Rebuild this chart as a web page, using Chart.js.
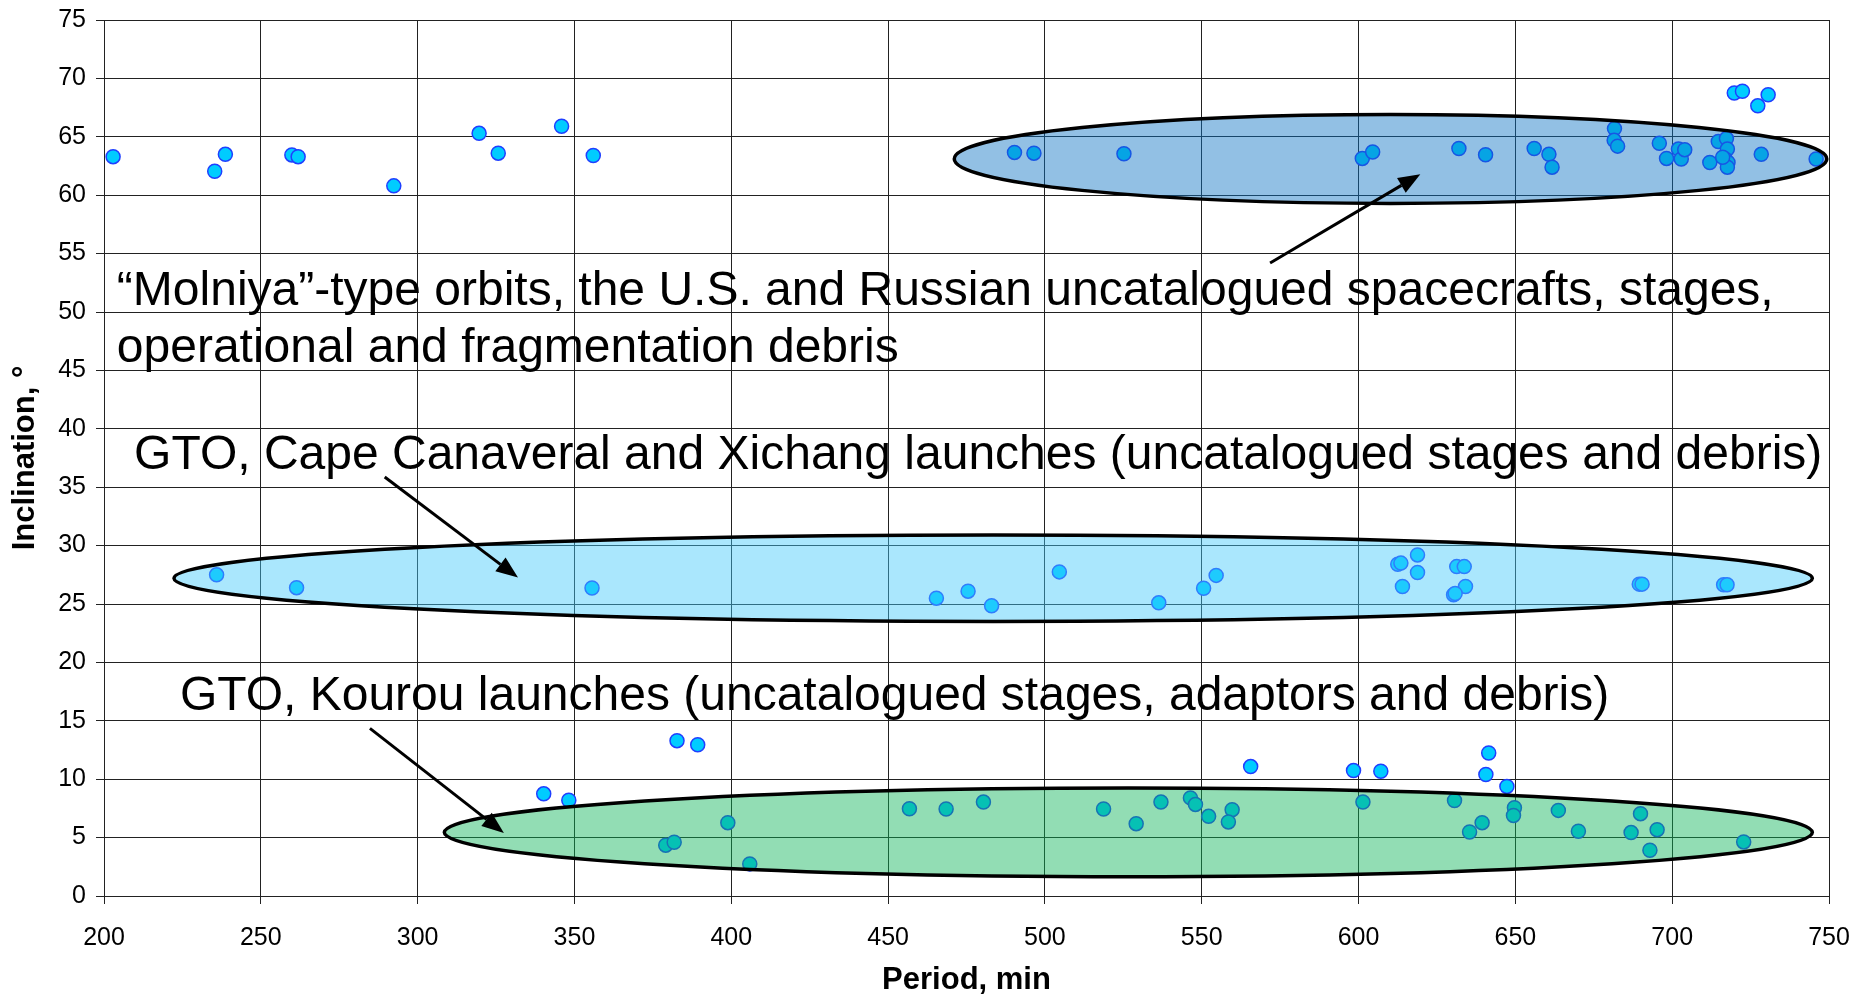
<!DOCTYPE html>
<html>
<head>
<meta charset="utf-8">
<script src="https://cdn.jsdelivr.net/npm/chart.js@4.4.0/dist/chart.umd.min.js"></script>
<style>
  html, body { margin: 0; padding: 0; background: #fff; }
  #wrap { width: 1856px; height: 999px; }
</style>
</head>
<body>
<div id="wrap"><canvas id="grafico" width="1856" height="999"></canvas></div>
<script>
// Eixos
const xMin = 200, xMax = 750, xStep = 50;
const yMin = 0, yMax = 75, yStep = 5;

// "Molniya"-type (inclinação ~63°)
const molniyaPeriod = [202.9, 235.3, 238.7, 259.9, 261.9, 292.4, 319.6, 325.7, 345.9, 356.0,
  490.3, 496.5, 525.2, 601.2, 604.5, 632.0, 640.5, 656.0, 660.7, 661.7, 681.6, 681.5, 682.6,
  695.9, 698.2, 702.0, 702.9, 704.0, 712.0, 714.7, 717.3, 717.6, 716.9, 717.8, 717.6, 716.1,
  728.4, 745.9, 719.8, 722.4, 727.3, 730.6];
const molniyaIncl = [63.3, 62.05, 63.5, 63.45, 63.3, 60.8, 65.3, 63.6, 65.9, 63.4,
  63.66, 63.6, 63.55, 63.15, 63.7, 64.0, 63.46, 64.0, 63.5, 62.4, 65.7, 64.7, 64.2,
  64.45, 63.15, 63.95, 63.1, 63.9, 62.8, 64.6, 64.85, 63.95, 63.1, 62.8, 62.4, 63.25,
  63.5, 63.1, 68.75, 68.9, 67.65, 68.6];

// GTO, Cape Canaveral / Xichang
const capePeriod = [235.9, 261.4, 355.6, 465.4, 475.5, 483.0, 504.6, 536.3, 550.6, 554.6,
  612.5, 613.5, 618.8, 618.8, 614.0, 631.3, 633.7, 634.1, 630.3, 630.8, 689.5, 690.4, 716.4, 717.5];
const capeIncl = [27.5, 26.4, 26.37, 25.5, 26.1, 24.85, 27.75, 25.1, 26.35, 27.45,
  28.4, 28.5, 29.2, 27.7, 26.5, 28.2, 28.2, 26.5, 25.8, 25.9, 26.7, 26.7, 26.65, 26.65];

// GTO, Kourou
const kourouPeriod = [340.2, 348.2, 382.7, 389.3, 398.9, 379.1, 381.8, 405.9, 456.8, 468.5,
  480.4, 518.7, 529.1, 537.0, 546.4, 548.0, 552.2, 559.7, 558.5, 565.6, 598.4, 601.4, 607.1,
  630.6, 639.4, 635.4, 641.5, 640.6, 647.3, 649.7, 649.4, 663.7, 670.1, 689.9, 686.9, 695.2,
  692.9, 722.8];
const kourouIncl = [8.75, 8.2, 13.3, 12.95, 6.28, 4.35, 4.6, 2.75, 7.47, 7.45,
  8.04, 7.45, 6.19, 8.04, 8.4, 7.84, 6.82, 7.39, 6.34, 11.08, 10.74, 8.04, 10.68,
  8.18, 6.28, 5.48, 12.24, 10.4, 9.38, 7.56, 6.9, 7.33, 5.54, 7.05, 5.43, 5.68,
  3.92, 4.63];

// Elipses (centro e raios em unidades dos eixos)
const elipses = [
  { cx: 610.2, cy: 63.1, rx: 139.1, ry: 3.8, fill: "rgba(13,115,195,0.45)" },
  { cx: 483.5, cy: 27.2, rx: 261.2, ry: 3.7, fill: "rgba(67,202,251,0.45)" },
  { cx: 526.6, cy: 5.45, rx: 218.1, ry: 3.8, fill: "rgba(13,180,89,0.45)" }
];

// Setas: origem -> ponta (unidades dos eixos)
const setas = [
  { x1: 571.8, y1: 54.2, x2: 619.7, y2: 61.8 },
  { x1: 289.5, y1: 35.87, x2: 332.0, y2: 27.26 },
  { x1: 284.8, y1: 14.35, x2: 327.5, y2: 5.4 }
];

// Textos: ponto inicial da linha de base
const textos = [
  { x: 204.1, y: 50.6, text: "\u201cMolniya\u201d-type orbits, the U.S. and Russian uncatalogued spacecrafts, stages," },
  { x: 204.1, y: 45.75, text: "operational and fragmentation debris" },
  { x: 209.6, y: 36.6, text: "GTO, Cape Canaveral and Xichang launches (uncatalogued stages and debris)" },
  { x: 224.2, y: 15.95, text: "GTO, Kourou launches (uncatalogued stages, adaptors and debris)" }
];

const fonte = "'Liberation Sans', Arial, sans-serif";

function pares(xs, ys) {
  return xs.map((x, i) => ({ x: x, y: ys[i] }));
}

const estiloPonto = {
  pointStyle: "circle",
  pointRadius: 7,
  pointHoverRadius: 7,
  pointBackgroundColor: "#00CCFF",
  pointBorderColor: "#1f3fff",
  pointBorderWidth: 1.5,
  showLine: false
};

const anotacoes = {
  id: "anotacoes",
  afterDatasetsDraw(chart) {
    const ctx = chart.ctx;
    const sx = chart.scales.x, sy = chart.scales.y;
    const area = chart.chartArea;

    ctx.save();
    ctx.beginPath();
    ctx.rect(area.left, area.top, area.right - area.left, area.bottom - area.top);
    ctx.clip();
    elipses.forEach(e => {
      const cx = sx.getPixelForValue(e.cx);
      const cy = sy.getPixelForValue(e.cy);
      const rx = Math.abs(sx.getPixelForValue(e.cx + e.rx) - cx);
      const ry = Math.abs(sy.getPixelForValue(e.cy + e.ry) - cy);
      ctx.beginPath();
      ctx.ellipse(cx, cy, rx, ry, 0, 0, Math.PI * 2);
      ctx.fillStyle = e.fill;
      ctx.fill();
      ctx.lineWidth = 3.5;
      ctx.strokeStyle = "#000";
      ctx.stroke();
    });
    ctx.restore();

    ctx.save();
    setas.forEach(s => {
      const x1 = sx.getPixelForValue(s.x1), y1 = sy.getPixelForValue(s.y1);
      const x2 = sx.getPixelForValue(s.x2), y2 = sy.getPixelForValue(s.y2);
      const ang = Math.atan2(y2 - y1, x2 - x1);
      const comp = 22, larg = 8.5;
      const bx = x2 - comp * Math.cos(ang), by = y2 - comp * Math.sin(ang);
      ctx.beginPath();
      ctx.moveTo(x1, y1);
      ctx.lineTo(bx, by);
      ctx.lineWidth = 3;
      ctx.strokeStyle = "#000";
      ctx.stroke();
      ctx.beginPath();
      ctx.moveTo(x2, y2);
      ctx.lineTo(bx + larg * Math.sin(ang), by - larg * Math.cos(ang));
      ctx.lineTo(bx - larg * Math.sin(ang), by + larg * Math.cos(ang));
      ctx.closePath();
      ctx.fillStyle = "#000";
      ctx.fill();
    });

    ctx.fillStyle = "#000";
    ctx.font = "48px " + fonte;
    ctx.textBaseline = "alphabetic";
    ctx.textAlign = "left";
    textos.forEach(t => {
      ctx.fillText(t.text, sx.getPixelForValue(t.x), sy.getPixelForValue(t.y));
    });
    ctx.restore();
  }
};

const ctx = document.getElementById("grafico").getContext("2d");
new Chart(ctx, {
  type: "scatter",
  data: {
    datasets: [
      Object.assign({ label: "Molniya", data: pares(molniyaPeriod, molniyaIncl) }, estiloPonto),
      Object.assign({ label: "GTO Cape Canaveral / Xichang", data: pares(capePeriod, capeIncl) }, estiloPonto),
      Object.assign({ label: "GTO Kourou", data: pares(kourouPeriod, kourouIncl) }, estiloPonto)
    ]
  },
  options: {
    responsive: false,
    animation: false,
    layout: { padding: { left: 0, right: 27, top: 20, bottom: 0 } },
    plugins: {
      legend: { display: false },
      tooltip: { enabled: false }
    },
    scales: {
      x: {
        type: "linear",
        min: xMin,
        max: xMax,
        ticks: { stepSize: xStep, color: "#000", font: { family: fonte, size: 25 }, padding: 19, maxRotation: 0 },
        grid: { color: "#222", lineWidth: 1, tickLength: 8, tickColor: "#222" },
        border: { color: "#222", width: 1 },
        title: { display: true, text: "Period, min", color: "#000", font: { family: fonte, size: 31, weight: "bold" }, padding: 0 },
        afterFit: s => {
          s.height = 103;
          s.paddingLeft = 0;
          s.paddingRight = 0;
        }
      },
      y: {
        type: "linear",
        min: yMin,
        max: yMax,
        ticks: { stepSize: yStep, color: "#000", font: { family: fonte, size: 25 }, padding: 10 },
        grid: { color: "#222", lineWidth: 1, tickLength: 8, tickColor: "#222" },
        border: { color: "#222", width: 1 },
        title: { display: true, text: "Inclination, \u00b0", color: "#000", font: { family: fonte, size: 31, weight: "bold" }, padding: { top: 7, bottom: 0 } },
        afterFit: s => {
          s.width = 104;
          s.paddingTop = 0;
          s.paddingBottom = 0;
        }
      }
    }
  },
  plugins: [anotacoes]
});
</script>
</body>
</html>
